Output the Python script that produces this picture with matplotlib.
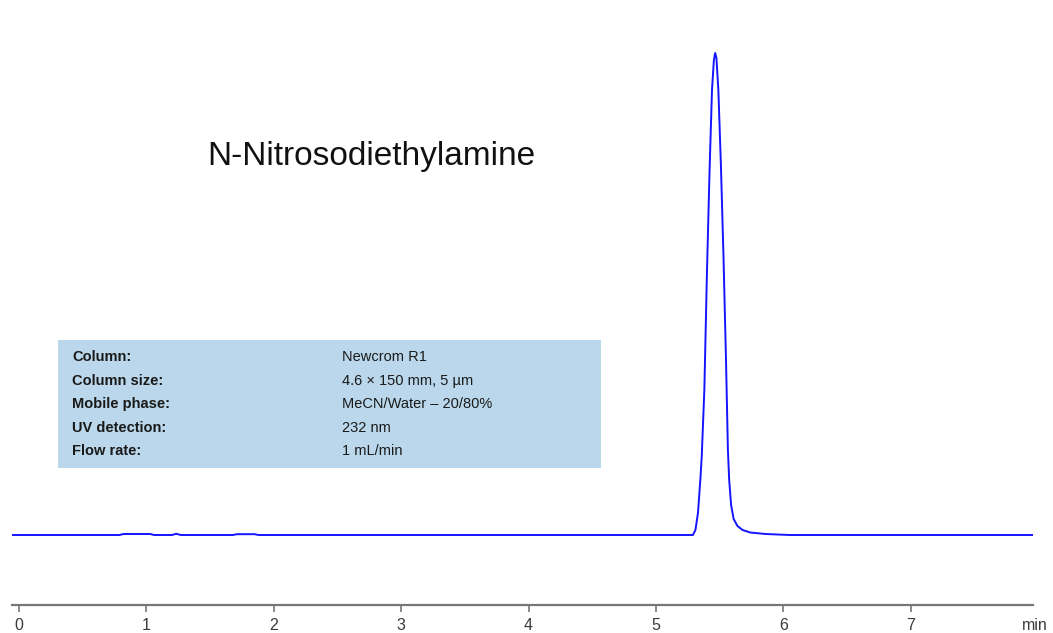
import numpy as np
import matplotlib
matplotlib.use("Agg")
import matplotlib.pyplot as plt
from matplotlib.patches import Rectangle

plt.rcParams['font.family'] = ['Liberation Sans', 'DejaVu Sans']

# chromatogram trace (time in min, signal in arbitrary units)
time = [-0.055, 0.79, 0.82, 1.03, 1.06, 1.20, 1.235, 1.27, 1.68, 1.71, 1.85, 1.88,
        5.29, 5.31, 5.33, 5.35, 5.36, 5.38, 5.40, 5.42, 5.44, 5.455, 5.465, 5.475,
        5.49, 5.51, 5.53, 5.55, 5.565, 5.575, 5.59, 5.61, 5.64, 5.68, 5.74, 5.86, 6.05, 7.96]
signal = [0, 0, 1, 1, 0, 0, 1.2, 0, 0, 0.8, 0.8, 0,
          0, 5, 22, 58, 80, 145, 260, 360, 445, 475, 482, 477,
          445, 370, 280, 175, 85, 55, 30, 16, 9, 5, 2.5, 1, 0, 0]

ticks = [0, 1, 2, 3, 4, 5, 6, 7]
title = "N-Nitrosodiethylamine"
info_labels = ["Column:", "Column size:", "Mobile phase:", "UV detection:", "Flow rate:"]
info_values = ["Newcrom R1", "4.6 \u00d7 150 mm, 5 \u00b5m", "MeCN/Water \u2013 20/80%",
               "232 nm", "1 mL/min"]

W, H = 1053, 633
fig = plt.figure(figsize=(W / 100, H / 100), dpi=100)
ax = fig.add_axes([12 / W, (H - 605) / H, 1021 / W, 585 / H])
ax.plot(time, signal, color='#1414ff', lw=1.4)
ax.set_xlim(-0.055, 7.96)
ax.set_ylim(-70, 515)

for s in ['top', 'right', 'left']:
    ax.spines[s].set_visible(False)
ax.spines['bottom'].set_color('#777777')
ax.spines['bottom'].set_linewidth(1.6)
ax.set_yticks([])
ax.set_xticks(ticks)
ax.tick_params(axis='x', direction='out', length=5, width=1.2, color='#777777',
               labelsize=11.5, labelcolor='#3a3a3a', pad=4)
fig.text(1022 / W, (H - 625) / H, "min", fontsize=11.5, color='#3a3a3a',
         ha='left', va='center')

fig.text(207 / W, (H - 157) / H, title, fontsize=24, color='#111111',
         ha='left', va='center')

fig.patches.append(Rectangle((58 / W, (H - 468) / H), 543 / W, 128 / H,
                             transform=fig.transFigure, facecolor='#bad7eb',
                             edgecolor='none', zorder=0))
for i, (lab, val) in enumerate(zip(info_labels, info_values)):
    yy = (H - (357 + i * 23.6)) / H
    fig.text(72 / W, yy, lab, fontsize=10.5, fontweight='bold', color='#1a1a1a',
             ha='left', va='center')
    fig.text(342 / W, yy, val, fontsize=10.5, color='#1a1a1a', ha='left', va='center')

fig.savefig("out.png", dpi=100)
